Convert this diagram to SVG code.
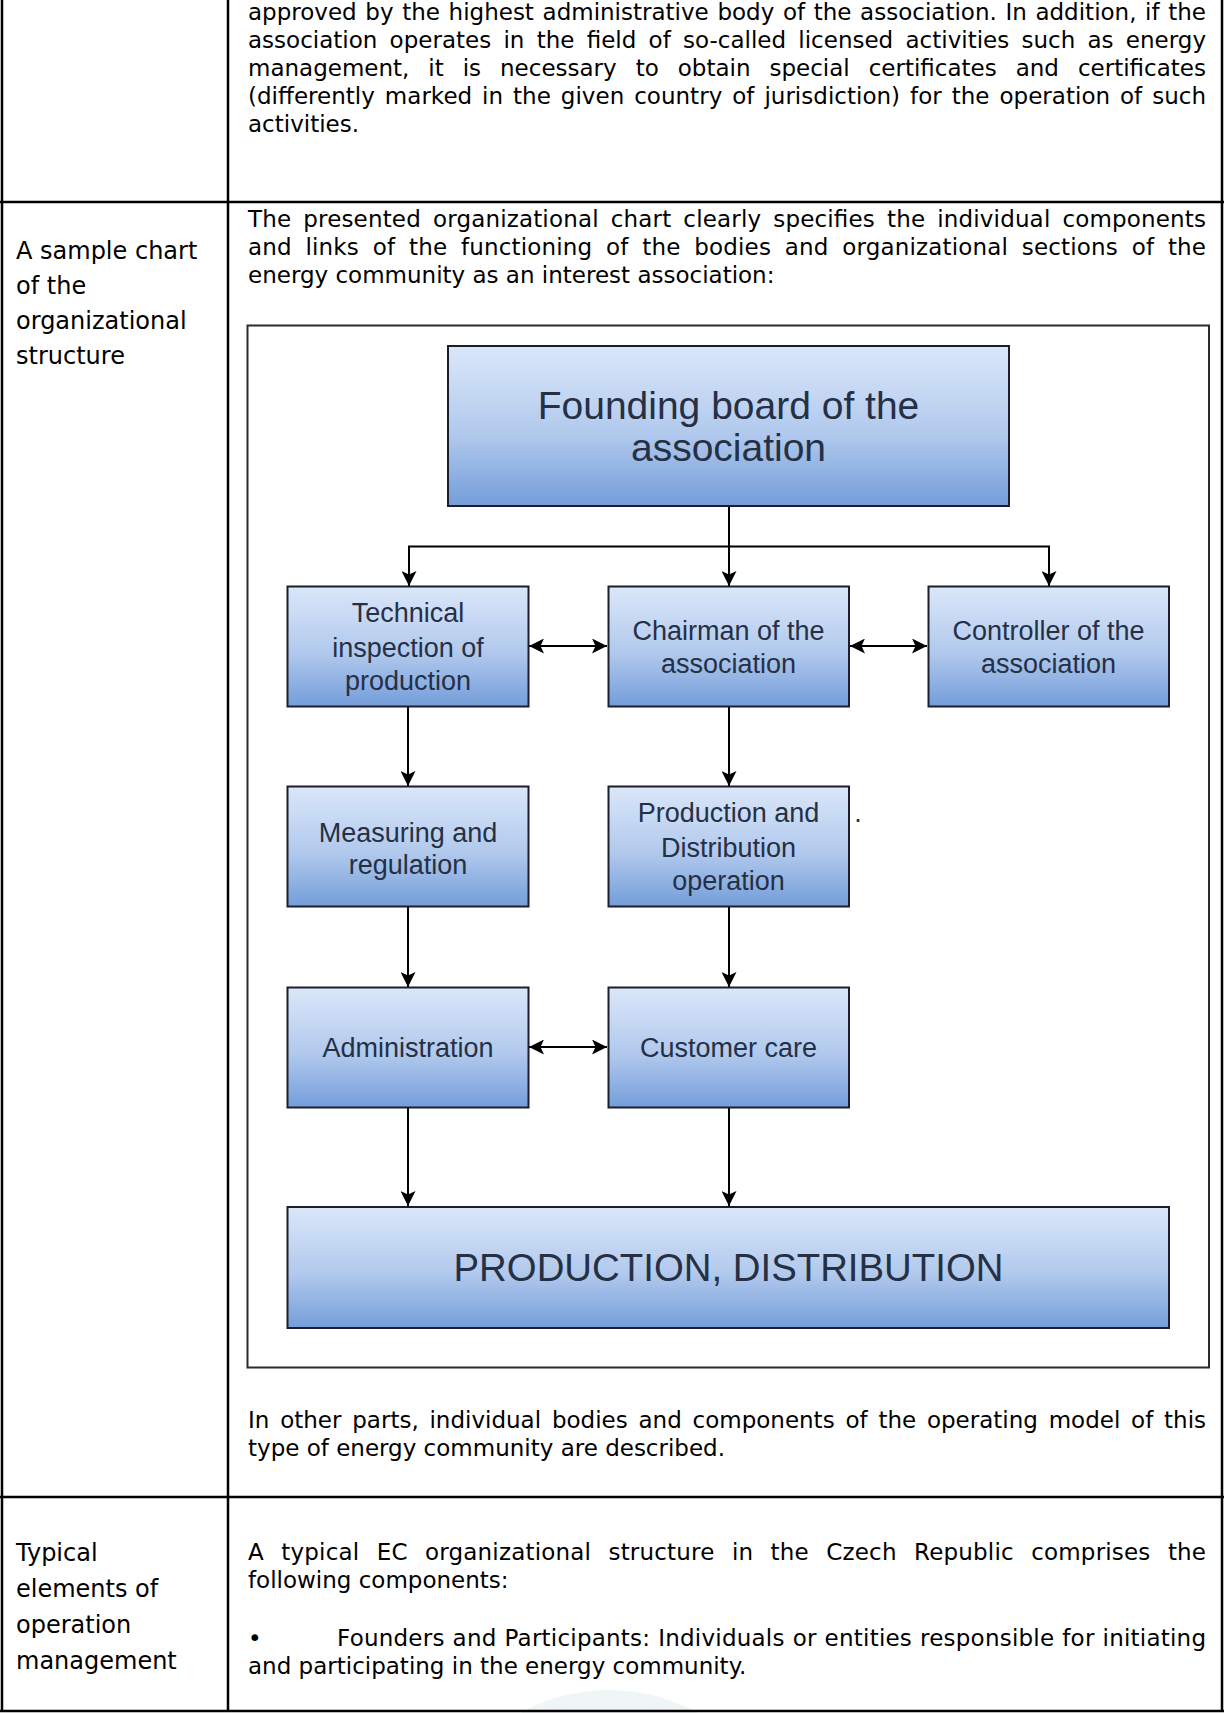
<svg xmlns="http://www.w3.org/2000/svg" width="1224" height="1713" viewBox="0 0 1224 1713">
  <style>
    .grid { stroke: #000; stroke-width: 2.5; fill: none; }
    .body { font-family: "DejaVu Sans", Verdana, sans-serif; font-size: 23px; fill: #000; }
    .side { font-family: "DejaVu Sans", Verdana, sans-serif; font-size: 24px; fill: #000; }
    .frame { fill: #fff; stroke: #2b2b2b; stroke-width: 2; }
    .box { fill: url(#nodeFill); stroke: #1b1f2c; stroke-width: 2; }
    .lbl { font-family: "Liberation Sans", Arial, sans-serif; font-size: 27px; fill: #263045; text-anchor: middle; }
    .big { font-size: 39px; }
    .edge { stroke: #000; stroke-width: 2; fill: none; }
  </style>
  <defs>
    <linearGradient id="nodeFill" x1="0" y1="0" x2="0" y2="1">
      <stop offset="0" stop-color="#dbe7f9"/>
      <stop offset="0.55" stop-color="#b1c9ed"/>
      <stop offset="1" stop-color="#749dda"/>
    </linearGradient>
    <marker id="head" viewBox="0 0 15 15" refX="15" refY="7.5" markerWidth="15" markerHeight="15" markerUnits="userSpaceOnUse" orient="auto-start-reverse">
      <path d="M0,0 L15,7.5 L0,15 L3.5,7.5 Z" fill="#000"/>
    </marker>
  </defs>

  <rect width="1224" height="1713" fill="#fff"/>

  <!-- faint page mark at the foot -->
  <ellipse cx="609" cy="1792" rx="140" ry="102" fill="#f0f6f7"/>

  <!-- table rules -->
  <g id="table">
    <line class="grid" x1="2" y1="0" x2="2" y2="1711"/>
    <line class="grid" x1="228" y1="0" x2="228" y2="1711"/>
    <line class="grid" x1="1222" y1="0" x2="1222" y2="1711"/>
    <line class="grid" x1="0" y1="202" x2="1224" y2="202"/>
    <line class="grid" x1="0" y1="1497" x2="1224" y2="1497"/>
    <line class="grid" x1="0" y1="1711" x2="1224" y2="1711"/>
  </g>

  <!-- first row, continued text -->
  <g id="row-intro" class="body">
    <text x="248" y="20" style="word-spacing:1.3px" textLength="958" lengthAdjust="spacing">approved by the highest administrative body of the association. In addition, if the</text>
    <text x="248" y="48" style="word-spacing:4.96px" textLength="958" lengthAdjust="spacing">association operates in the field of so-called licensed activities such as energy</text>
    <text x="248" y="76" style="word-spacing:11.66px" textLength="958" lengthAdjust="spacing">management, it is necessary to obtain special certificates and certificates</text>
    <text x="248" y="104" style="word-spacing:2.6px" textLength="958" lengthAdjust="spacing">(differently marked in the given country of jurisdiction) for the operation of such</text>
    <text x="248" y="132">activities.</text>
  </g>

  <!-- second row -->
  <g id="row-chart-label" class="side">
    <text x="16" y="259">A sample chart</text>
    <text x="16" y="294">of the</text>
    <text x="16" y="329">organizational</text>
    <text x="16" y="364">structure</text>
  </g>
  <g id="row-chart-text" class="body">
    <text x="248" y="227" style="word-spacing:4.56px" textLength="958" lengthAdjust="spacing">The presented organizational chart clearly specifies the individual components</text>
    <text x="248" y="255" style="word-spacing:6.34px" textLength="958" lengthAdjust="spacing">and links of the functioning of the bodies and organizational sections of the</text>
    <text x="248" y="283">energy community as an interest association:</text>
    <text x="248" y="1428" style="word-spacing:3.48px" textLength="958" lengthAdjust="spacing">In other parts, individual bodies and components of the operating model of this</text>
    <text x="248" y="1456">type of energy community are described.</text>
  </g>

  <!-- organisational chart -->
  <rect id="chart-frame" class="frame" x="247.5" y="325.5" width="961.5" height="1042"/>

  <g id="connectors">
    <line class="edge" x1="729" y1="506" x2="729" y2="586" marker-end="url(#head)"/>
    <polyline class="edge" points="409,570 409,546.5 1049,546.5 1049,570"/>
    <line class="edge" x1="409" y1="560" x2="409" y2="586" marker-end="url(#head)"/>
    <line class="edge" x1="1049" y1="560" x2="1049" y2="586" marker-end="url(#head)"/>
    <line class="edge" x1="529" y1="646" x2="607" y2="646" marker-start="url(#head)" marker-end="url(#head)"/>
    <line class="edge" x1="850" y1="646" x2="927" y2="646" marker-start="url(#head)" marker-end="url(#head)"/>
    <line class="edge" x1="408" y1="707" x2="408" y2="786" marker-end="url(#head)"/>
    <line class="edge" x1="729" y1="707" x2="729" y2="786" marker-end="url(#head)"/>
    <line class="edge" x1="408" y1="907" x2="408" y2="987" marker-end="url(#head)"/>
    <line class="edge" x1="729" y1="907" x2="729" y2="987" marker-end="url(#head)"/>
    <line class="edge" x1="529" y1="1047" x2="607" y2="1047" marker-start="url(#head)" marker-end="url(#head)"/>
    <line class="edge" x1="408" y1="1108" x2="408" y2="1206" stroke="#555" marker-end="url(#head)"/>
    <line class="edge" x1="729" y1="1108" x2="729" y2="1206" marker-end="url(#head)"/>
  </g>

  <g id="founding-board">
    <rect class="box" x="448" y="346" width="561" height="160"/>
    <text class="lbl big" x="728.5" y="419">Founding board of the</text>
    <text class="lbl big" x="728.5" y="461">association</text>
  </g>
  <g id="technical-inspection">
    <rect class="box" x="287.5" y="586.5" width="241" height="120"/>
    <text class="lbl" x="408" y="622">Technical</text>
    <text class="lbl" x="408" y="657">inspection of</text>
    <text class="lbl" x="408" y="690">production</text>
  </g>
  <g id="chairman">
    <rect class="box" x="608.5" y="586.5" width="240.5" height="120"/>
    <text class="lbl" x="728.5" y="640">Chairman of the</text>
    <text class="lbl" x="728.5" y="673">association</text>
  </g>
  <g id="controller">
    <rect class="box" x="928.5" y="586.5" width="240.5" height="120"/>
    <text class="lbl" x="1048.5" y="640">Controller of the</text>
    <text class="lbl" x="1048.5" y="673">association</text>
  </g>
  <g id="measuring">
    <rect class="box" x="287.5" y="786.5" width="241" height="120"/>
    <text class="lbl" x="408" y="842">Measuring and</text>
    <text class="lbl" x="408" y="874">regulation</text>
  </g>
  <g id="production-distribution-operation">
    <rect class="box" x="608.5" y="786.5" width="240.5" height="120"/>
    <text class="lbl" x="728.5" y="822">Production and</text>
    <text class="lbl" x="728.5" y="857">Distribution</text>
    <text class="lbl" x="728.5" y="890">operation</text>
  </g>
  <text class="lbl" x="858" y="822">.</text>
  <g id="administration">
    <rect class="box" x="287.5" y="987.5" width="241" height="120"/>
    <text class="lbl" x="408" y="1057">Administration</text>
  </g>
  <g id="customer-care">
    <rect class="box" x="608.5" y="987.5" width="240.5" height="120"/>
    <text class="lbl" x="728.5" y="1057">Customer care</text>
  </g>
  <g id="production-distribution">
    <rect class="box" x="287.5" y="1207" width="881.5" height="121"/>
    <text class="lbl big" x="728.5" y="1281" textLength="550" lengthAdjust="spacingAndGlyphs">PRODUCTION, DISTRIBUTION</text>
  </g>

  <!-- third row -->
  <g id="row-elements-label" class="side">
    <text x="16" y="1561">Typical</text>
    <text x="16" y="1597">elements of</text>
    <text x="16" y="1633">operation</text>
    <text x="16" y="1669">management</text>
  </g>
  <g id="row-elements-text" class="body">
    <text x="248" y="1560" style="word-spacing:9.88px" textLength="958" lengthAdjust="spacing">A typical EC organizational structure in the Czech Republic comprises the</text>
    <text x="248" y="1588">following components:</text>
    <text x="248" y="1646">•</text>
    <text x="337" y="1646" style="word-spacing:0.45px" textLength="869" lengthAdjust="spacing">Founders and Participants: Individuals or entities responsible for initiating</text>
    <text x="248" y="1674">and participating in the energy community.</text>
  </g>
</svg>
